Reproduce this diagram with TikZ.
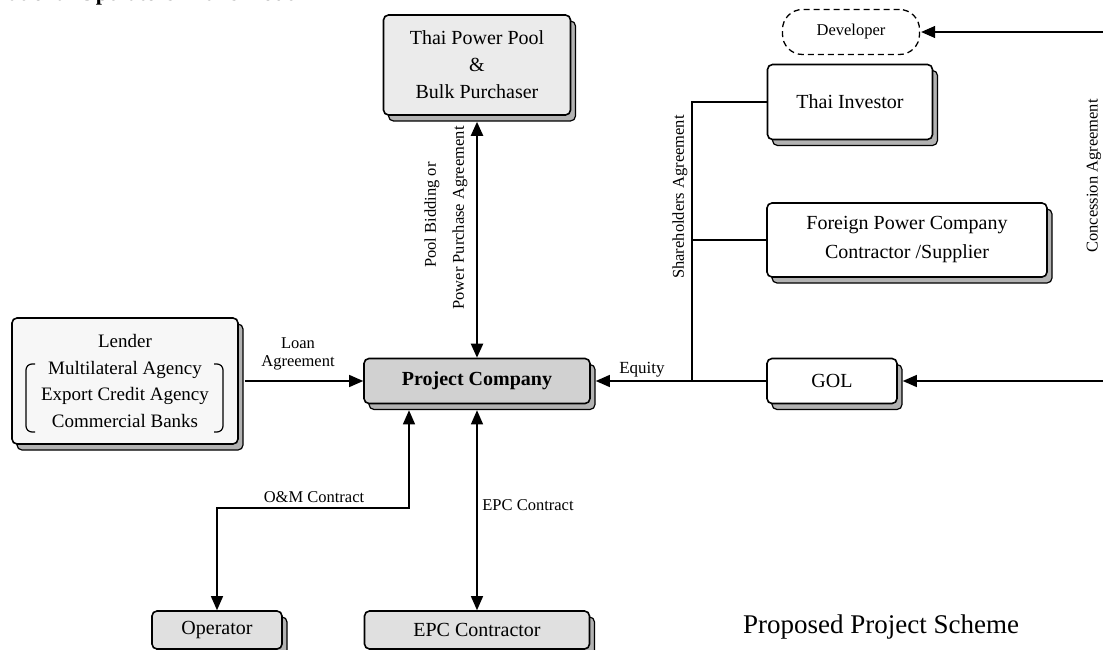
\documentclass[tikz,border=0pt]{standalone}
\usepackage{fontspec}
\setmainfont{Liberation Serif}
\usetikzlibrary{arrows.meta,shadows}
\newcommand\boxtxt{\fontsize{20}{27}\selectfont}
\newcommand\lbltxt{\fontsize{16.5}{18}\selectfont}
\begin{document}
\begin{tikzpicture}[x=1pt,y=-1pt,
  tip/.tip={Triangle[length=14pt,width=12pt]},
  card/.style={draw, line width=1.6pt, rounded corners=5pt, align=center, inner sep=0pt,
    font=\boxtxt, fill=white,
    copy shadow={shadow xshift=5pt, shadow yshift=-6pt, fill=black!30, draw=black, line width=1.2pt}},
  devbox/.style={draw, line width=1.3pt, dash pattern=on 6pt off 4pt, rounded corners=20pt,
    minimum width=137pt, minimum height=45pt, inner sep=0pt, font=\fontsize{16.5}{20}\selectfont},
  conn/.style={line width=1.2pt},
  oneway/.style={conn, -tip},
  twoway/.style={conn, tip-tip},
  lbl/.style={inner sep=0pt, align=center, font=\lbltxt}
]
\useasboundingbox (0,0) rectangle (1103,650);
\clip (0,0) rectangle (1103,650);
\fill[white] (0,0) rectangle (1103,650);

% cut-off heading line at the top edge
\node[anchor=base west, inner sep=0pt, font=\bfseries\fontsize{22}{24}\selectfont] (cut) at (-4,1) {national Operators in this model};

% boxes
\node[card, fill=black!8, minimum width=187pt, minimum height=100pt] (pool) at (477,65) {Thai Power Pool\\\&\\Bulk Purchaser};
\node[devbox] (dev) at (851,32) {Developer};
\node[card, minimum width=165pt, minimum height=75pt] (inv) at (850,102) {Thai Investor};
\node[card, minimum width=280pt, minimum height=74pt, font=\fontsize{20}{29}\selectfont] (foreign) at (907,240) {Foreign Power Company\\Contractor /Supplier};
\node[card, minimum width=130pt, minimum height=45pt] (gol) at (832,381) {GOL};
\node[card, fill=black!18, minimum width=226pt, minimum height=45pt, font=\bfseries\boxtxt] (pc) at (477,381) {Project Company};
\node[card, fill=black!3, minimum width=226pt, minimum height=126pt, font=\fontsize{19}{26.5}\selectfont] (lender) at (125,381) {Lender\\Multilateral Agency\\Export Credit Agency\\Commercial Banks};
\node[card, fill=black!12, minimum width=130pt, minimum height=38pt] (op) at (217,630) {Operator};
\node[card, fill=black!12, minimum width=225pt, minimum height=38pt] (epc) at (477,630) {EPC Contractor};

% brackets inside the lender box
\draw[line width=1.2pt, rounded corners=6pt] (35,364) -- (26,364) -- (26,432) -- (35,432);
\draw[line width=1.2pt, rounded corners=6pt] (214,364) -- (223,364) -- (223,432) -- (214,432);

% helper coordinates
\coordinate (poolbot) at ([yshift=-6pt]pool.south);
\coordinate (pcbot) at ([yshift=-6pt]pc.south);
\coordinate (shtop) at (692,102);
\coordinate (shmid) at (692,240);
\coordinate (shbot) at (692,381);
\coordinate (rtop) at (1103,32);
\coordinate (rbot) at (1103,381);
\coordinate (omA) at (409,508);
\coordinate (omB) at (217,508);

% connectors
\draw[twoway, line width=2.2pt] (poolbot) -- (pc.north);
\draw[oneway] ([xshift=6pt]lender.east) -- (pc.west);
\draw[oneway] (gol.west) -- ([xshift=5pt]pc.east);
\draw[conn] (inv.west) -- (shtop) -- (shbot);
\draw[conn] (foreign.west) -- (shmid);
\draw[oneway] (rtop) -- ([xshift=1pt]dev.east);
\draw[oneway] (rbot) -- ([xshift=5pt]gol.east);
\draw[twoway] (omA |- pcbot) -- (omA) -- (omB) -- (op.north);
\draw[twoway] (pcbot) -- (epc.north);

% labels
\node[lbl] (loan) at (298,354) {Loan\\Agreement};
\node[lbl, font=\fontsize{17}{18}\selectfont] (equity) at (642,370) {Equity};
\node[lbl] (oml) at (314,497) {O\&M Contract};
\node[lbl] (epcl) at (528,505) {EPC Contract};
\node[lbl, rotate=90] (pb1) at (432,215) {Pool Bidding or};
\node[lbl, rotate=90] (pb2) at (460,218) {Power Purchase Agreement};
\node[lbl, rotate=90] (sha) at (680,197) {Shareholders Agreement};
\node[lbl, rotate=90] (con) at (1094,176) {Concession Agreement};
\node[inner sep=0pt, font=\fontsize{27}{30}\selectfont] (title) at (881,627) {Proposed Project Scheme};
\end{tikzpicture}
\end{document}
